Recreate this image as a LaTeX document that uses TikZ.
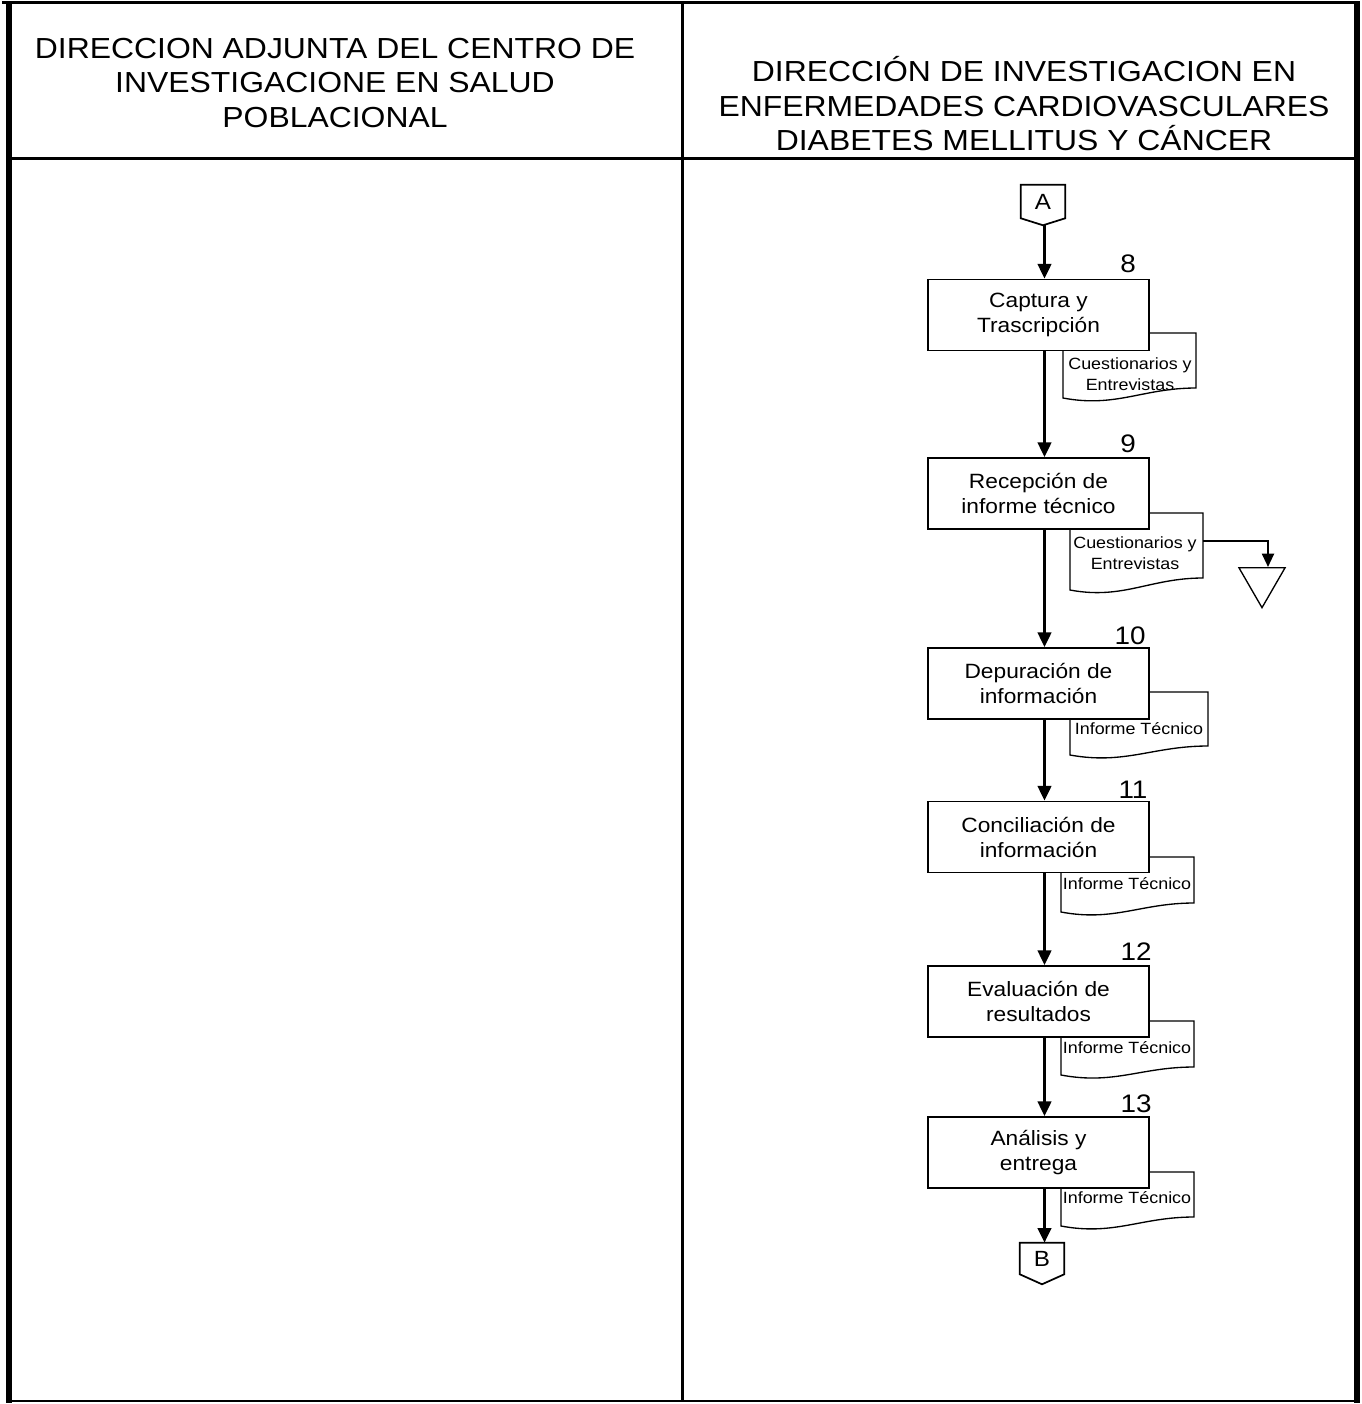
\documentclass[tikz,border=0pt]{standalone}
\usepackage{fontspec}
\setmainfont[FakeStretch=1.1]{Liberation Sans}
\usetikzlibrary{arrows.meta,calc,shapes.geometric}
\newcommand\docpath[5]{\draw[docline] (#1,#3) -- (#2,#3) -- (#2,#5) .. controls ({#1+0.6*(#2-#1)},#5) and ({#1+0.4*(#2-#1)},{#4+10}) .. (#1,#4) -- cycle;}
\begin{document}
\begin{tikzpicture}[x=0.75pt,y=-0.75pt,
  flow/.style={line width=2.2pt, -{Triangle[length=11pt,width=10pt]}},
  flowthin/.style={line width=1.5pt, -{Triangle[length=10pt,width=9pt]}},
  proc/.style={draw, line width=1.3pt, fill=white, minimum width=165.75pt, minimum height=53.25pt, inner sep=0pt, align=center, font=\fontsize{15.5}{18.75}\selectfont},
  doctext/.style={align=center, inner sep=0pt, font=\fontsize{12.2}{15.75}\selectfont},
  docline/.style={line width=1pt, fill=white},
  num/.style={inner sep=0pt, font=\fontsize{19}{22}\selectfont},
  conn/.style={minimum width=33pt, minimum height=24.75pt, inner sep=0pt, font=\fontsize{16.5}{18}\selectfont},
  connline/.style={line width=1.3pt},
  head/.style={align=center, inner sep=0pt, font=\fontsize{21.75}{25.9}\selectfont}]

\useasboundingbox (0,0) rectangle (1362,1404);

% frame
\draw[line width=2.25pt] (2,2.5) -- (1360,2.5);
\draw[line width=4.5pt] (9,1) -- (9,1403);
\draw[line width=4.5pt] (1357,1) -- (1357,1403);
\draw[line width=2pt] (6,1401) -- (1360,1401);
\draw[line width=2.25pt] (682.5,2) -- (682.5,1401);
\draw[line width=2.25pt] (9,158.5) -- (1357,158.5);

% headers
\node[head] (hl) at (335,83) {DIRECCION ADJUNTA DEL CENTRO DE\\INVESTIGACIONE EN SALUD\\POBLACIONAL};
\node[head] (hr) at (1024,104) {DIRECCIÓN DE INVESTIGACION EN\\ENFERMEDADES CARDIOVASCULARES\\DIABETES MELLITUS Y CÁNCER};

% documents
\docpath{1063}{1196}{333}{398}{388}
\docpath{1070}{1203}{513}{590}{578}
\docpath{1070}{1208}{692}{755}{746}
\docpath{1061}{1194}{857}{912}{903}
\docpath{1061}{1194}{1021}{1075}{1067}
\docpath{1061}{1194}{1172}{1226}{1217}
\node[doctext] (d1) at (1130,374) {Cuestionarios y\\Entrevistas};
\node[doctext] (d2) at (1135,553) {Cuestionarios y\\Entrevistas};
\node[doctext] (d3) at (1139,729) {Informe Técnico};
\node[doctext] (d4) at (1127,884) {Informe Técnico};
\node[doctext] (d5) at (1127,1048) {Informe Técnico};
\node[doctext] (d6) at (1127,1198) {Informe Técnico};

% process boxes
\node[proc] (b8) at (1038.5,315) {Captura y\\Trascripción};
\node[proc] (b9) at (1038.5,493.5) {Recepción de\\informe técnico};
\node[proc] (b10) at (1038.5,683.5) {Depuración de\\información};
\node[proc] (b11) at (1038.5,837) {Conciliación de\\información};
\node[proc] (b12) at (1038.5,1001.5) {Evaluación de\\resultados};
\node[proc] (b13) at (1038.5,1152.5) {Análisis y\\entrega};

% numbers
\node[num] (n8) at (1128,264) {8};
\node[num] (n9) at (1128,444) {9};
\node[num] (n10) at (1130,636) {10};
\node[num] (n11) at (1133,790) {11};
\node[num] (n12) at (1136,952) {12};
\node[num] (n13) at (1136,1104) {13};

% off-page connectors
\node[conn] (A) at (1043,201.5) {A};
\draw[connline] (A.north west) -- (A.north east) -- (A.south east) -- ($(A.south)+(0,7)$) -- (A.south west) -- cycle;
\node[conn, minimum height=23.25pt] (B) at (1042,1258.5) {B};
\draw[connline] (B.north west) -- (B.north east) -- (B.south east) -- ($(B.south)+(0,10)$) -- (B.south west) -- cycle;
\coordinate (Ap) at ($(A.south)+(1.5,7)$);

% storage triangle
\node[draw, regular polygon, regular polygon sides=3, shape border rotate=180, minimum size=40pt, inner sep=0pt, line width=1pt] (tri) at (1262,581) {};
\coordinate (d2r) at (1203,541);

% connectors
\draw[flow] (Ap) -- (Ap |- b8.north);
\draw[flow] (b8.south -| Ap) -- (b9.north -| Ap);
\draw[flow] (b9.south -| Ap) -- (b10.north -| Ap);
\draw[flow] (b10.south -| Ap) -- (b11.north -| Ap);
\draw[flow] (b11.south -| Ap) -- (b12.north -| Ap);
\draw[flow] (b12.south -| Ap) -- (b13.north -| Ap);
\draw[flow] (b13.south -| Ap) -- (B.north -| Ap);
\draw[flowthin] (d2r) -| ([xshift=4.5pt]tri.north);
\end{tikzpicture}
\end{document}
